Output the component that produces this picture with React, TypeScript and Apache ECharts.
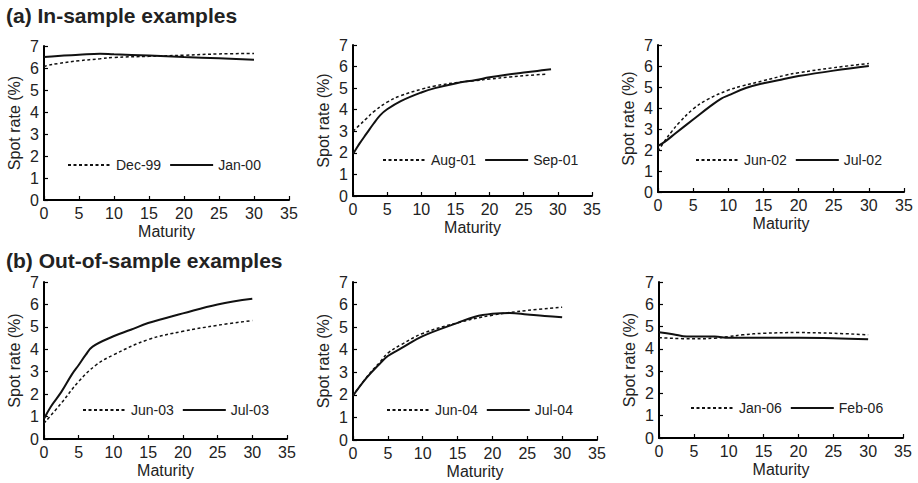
import React, { useEffect, useRef } from "react";
import * as echarts from "echarts";

// ---- Data (maturity in years, spot rate in %) ----
const dec99: number[][] = [[0, 6.05], [0.5, 6.12], [2, 6.2], [5, 6.33], [8, 6.42], [10, 6.48], [15, 6.53], [20, 6.58], [25, 6.64], [30, 6.66]];
const jan00: number[][] = [[0, 6.5], [2, 6.55], [5, 6.6], [8, 6.65], [10, 6.62], [15, 6.57], [20, 6.5], [25, 6.44], [30, 6.38]];

const aug01: number[][] = [[0, 3.0], [1, 3.3], [2, 3.6], [3, 3.9], [5, 4.35], [7, 4.65], [10, 4.95], [12, 5.1], [15, 5.25], [18, 5.35], [20, 5.42], [23, 5.52], [26, 5.6], [28.5, 5.65]];
const sep01: number[][] = [[0, 1.95], [0.5, 2.2], [1, 2.45], [2, 2.9], [3, 3.35], [4, 3.75], [5, 4.02], [7, 4.4], [10, 4.8], [12, 5.0], [15, 5.22], [18, 5.38], [20, 5.5], [22, 5.6], [25, 5.72], [27, 5.8], [29, 5.88]];

const jun02: number[][] = [[0, 1.95], [1, 2.45], [2, 2.9], [3, 3.3], [5, 3.95], [7, 4.4], [10, 4.85], [12, 5.05], [15, 5.3], [18, 5.55], [20, 5.68], [25, 5.92], [30, 6.12]];
const jul02: number[][] = [[0, 2.2], [1, 2.4], [2.5, 2.8], [5, 3.45], [7.5, 4.1], [9, 4.45], [10, 4.6], [12.5, 4.95], [15, 5.18], [17.5, 5.35], [20, 5.52], [25, 5.78], [30, 6.0]];

const jun03: number[][] = [[0, 0.7], [2.5, 1.6], [5, 2.57], [7.5, 3.3], [10, 3.75], [15, 4.43], [20, 4.8], [25, 5.07], [30, 5.28]];
const jul03: number[][] = [[0, 0.9], [1, 1.45], [2.5, 2.1], [4, 2.87], [5, 3.3], [6, 3.75], [7, 4.12], [10, 4.58], [12.5, 4.87], [15, 5.17], [20, 5.6], [25, 6.0], [30, 6.25]];

const jun04: number[][] = [[0, 1.96], [2, 2.8], [4, 3.5], [5, 3.85], [7, 4.24], [10, 4.72], [15, 5.19], [20, 5.53], [25, 5.74], [30, 5.88]];
const jul04: number[][] = [[0, 1.96], [2, 2.77], [4, 3.43], [5, 3.72], [7, 4.08], [10, 4.6], [15, 5.19], [17.5, 5.46], [20, 5.59], [22.5, 5.63], [25, 5.56], [27.5, 5.49], [30, 5.44]];

const jan06: number[][] = [[0, 4.5], [5, 4.45], [8, 4.48], [10, 4.55], [12, 4.63], [15, 4.7], [20, 4.73], [25, 4.7], [30, 4.63]];
const feb06: number[][] = [[0, 4.75], [2, 4.66], [4, 4.55], [8, 4.55], [10, 4.5], [15, 4.5], [20, 4.5], [25, 4.48], [30, 4.43]];

const panelNames: string[][] = [
  ["Dec-99", "Jan-00"],
  ["Aug-01", "Sep-01"],
  ["Jun-02", "Jul-02"],
  ["Jun-03", "Jul-03"],
  ["Jun-04", "Jul-04"],
  ["Jan-06", "Feb-06"],
];
const panelData: number[][][][] = [
  [dec99, jan00],
  [aug01, sep01],
  [jun02, jul02],
  [jun03, jul03],
  [jun04, jul04],
  [jan06, feb06],
];

const xTicks = { min: 0, max: 35, interval: 5 };
const yTicks = { min: 0, max: 7, interval: 1 };

// ---- Layout ----
const gridLayout = [
  { left: 44, top: 46, width: 245, height: 154, legendLeft: 67, legendTop: 163 },
  { left: 353, top: 45, width: 239, height: 151, legendLeft: 382, legendTop: 158 },
  { left: 658, top: 45, width: 246, height: 147, legendLeft: 695, legendTop: 158 },
  { left: 44, top: 282, width: 243, height: 157, legendLeft: 82, legendTop: 408 },
  { left: 353, top: 282, width: 244, height: 158, legendLeft: 386, legendTop: 408 },
  { left: 659, top: 282, width: 244, height: 156, legendLeft: 690, legendTop: 406 },
];

const FONT = "'Liberation Sans', Arial, Helvetica, sans-serif";
const TXT = "#222";

export default function App() {
  const ref = useRef<HTMLDivElement>(null);

  useEffect(() => {
    if (!ref.current) return;
    const chart = echarts.init(ref.current, undefined, { renderer: "svg" });

    const grids: any[] = [];
    const xAxes: any[] = [];
    const yAxes: any[] = [];
    const series: any[] = [];
    const legends: any[] = [];

    gridLayout.forEach((g, i) => {
      grids.push({ left: g.left, top: g.top, width: g.width, height: g.height, containLabel: false });
      const axisCommon = {
        type: "value",
        gridIndex: i,
        axisLine: { show: true, onZero: false, lineStyle: { color: "#000", width: 2 } },
        axisTick: { show: true, inside: true, length: 4, lineStyle: { color: "#000", width: 1.2 } },
        axisLabel: { color: TXT, fontSize: 16, fontFamily: FONT, margin: 5 },
        splitLine: { show: false },
        nameLocation: "middle",
        nameTextStyle: { color: TXT, fontSize: 16, fontFamily: FONT },
      };
      xAxes.push({ ...axisCommon, ...xTicks, name: "Maturity", nameGap: 23 });
      yAxes.push({ ...axisCommon, ...yTicks, name: "Spot rate (%)", nameGap: 22 });

      const [dashedName, solidName] = panelNames[i];
      const [dashedData, solidData] = panelData[i];
      series.push({
        type: "line",
        name: dashedName,
        xAxisIndex: i,
        yAxisIndex: i,
        data: dashedData,
        symbol: "none",
        smooth: 0.4,
        lineStyle: { color: "#111", width: 1.5, type: [3, 2.5] },
      });
      series.push({
        type: "line",
        name: solidName,
        xAxisIndex: i,
        yAxisIndex: i,
        data: solidData,
        symbol: "none",
        smooth: 0.4,
        lineStyle: { color: "#111", width: 2, type: "solid" },
      });
      legends.push({
        data: [dashedName, solidName],
        left: g.legendLeft,
        top: g.legendTop - 5,
        orient: "horizontal",
        itemWidth: 43,
        itemHeight: 10,
        itemGap: 8,
        padding: 0,
        selectedMode: false,
        itemStyle: { opacity: 0 },
        lineStyle: { width: 2 },
        textStyle: { color: TXT, fontSize: 14, fontFamily: FONT },
      });
    });

    chart.setOption({
      animation: false,
      backgroundColor: "#fff",
      title: [
        {
          text: "(a) In-sample examples",
          left: 6,
          top: 5,
          padding: 0,
          textStyle: { color: TXT, fontSize: 21, fontWeight: "bold", fontFamily: FONT },
        },
        {
          text: "(b) Out-of-sample examples",
          left: 6,
          top: 250,
          padding: 0,
          textStyle: { color: TXT, fontSize: 21, fontWeight: "bold", fontFamily: FONT },
        },
      ],
      grid: grids,
      xAxis: xAxes,
      yAxis: yAxes,
      legend: legends,
      series,
    });

    return () => chart.dispose();
  }, []);

  return (
    <div
      ref={ref}
      style={{ position: "fixed", left: 0, top: 0, width: 918, height: 483, background: "#fff" }}
    />
  );
}
